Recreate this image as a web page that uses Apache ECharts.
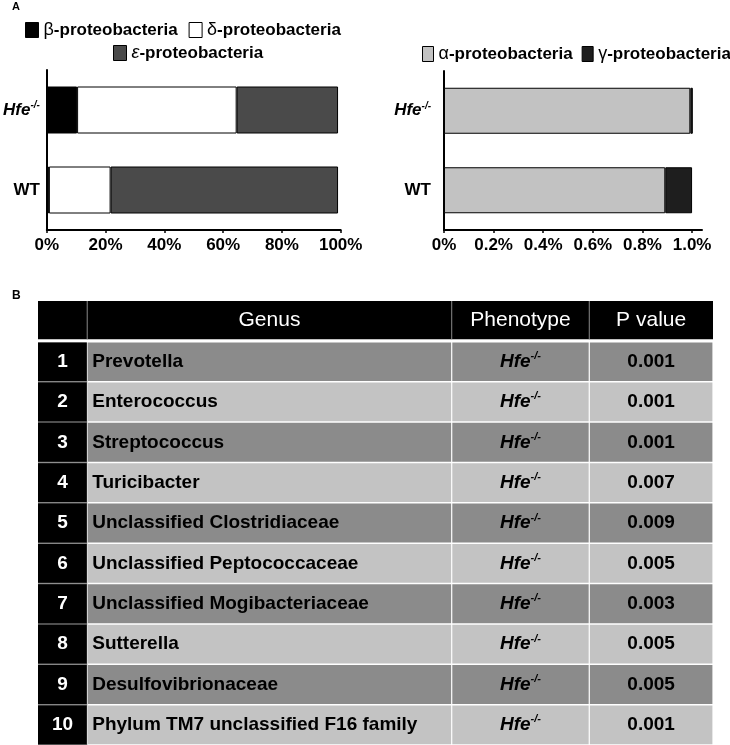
<!DOCTYPE html>
<html><head><meta charset="utf-8">
<script src="https://cdn.jsdelivr.net/npm/echarts@6/dist/echarts.min.js"></script>
<style>html,body{margin:0;padding:0;background:#fff}#c{width:730px;height:745px}</style>
</head><body><div id="c"></div>
<script>
// ---------- data ----------
const groups = ['WT', 'Hfe'];                 // bottom -> top
const betaVals = [0.7, 10.3];                 // % of Proteobacteria
const deltaVals = [21.0, 54.3];
const epsilonVals = [77.4, 34.5];
const alphaVals = [0.892, 0.993];             // %
const gammaVals = [0.108, 0.010];

const tableHeader = ['', 'Genus', 'Phenotype', 'P value'];
const rowNumbers = ['1', '2', '3', '4', '5', '6', '7', '8', '9', '10'];
const genera = ['Prevotella', 'Enterococcus', 'Streptococcus', 'Turicibacter',
  'Unclassified Clostridiaceae', 'Unclassified Peptococcaceae', 'Unclassified Mogibacteriaceae',
  'Sutterella', 'Desulfovibrionaceae', 'Phylum TM7 unclassified F16 family'];
const phenotypes = ['Hfe-/-', 'Hfe-/-', 'Hfe-/-', 'Hfe-/-', 'Hfe-/-', 'Hfe-/-', 'Hfe-/-', 'Hfe-/-', 'Hfe-/-', 'Hfe-/-'];
const pValues = ['0.001', '0.001', '0.001', '0.007', '0.009', '0.005', '0.003', '0.005', '0.005', '0.001'];

// ---------- styling / layout ----------
const FONT = '"Liberation Sans", Arial, sans-serif';
const COL_FRACTIONS = [0, 0.0729, 0.6129, 0.8167, 1];
const tableRows = ['header'].concat(rowNumbers);

const hfeRich = {
  i: { fontStyle: 'italic', fontWeight: 'bold', fontSize: 17, fontFamily: FONT, color: '#000', lineHeight: 20 },
  s: { fontStyle: 'italic', fontWeight: 'bold', fontSize: 10, fontFamily: FONT, color: '#000', verticalAlign: 'top', lineHeight: 12 },
  b: { fontWeight: 'bold', fontSize: 17, fontFamily: FONT, color: '#000' }
};
const yLabelFmt = v => v === 'Hfe' ? '{i|Hfe}{s|-/-}' : '{b|WT}';

const legendRich = {
  g: { fontWeight: 'normal', fontSize: 18, fontFamily: FONT, color: '#000' },
  ge: { fontWeight: 'normal', fontStyle: 'italic', fontSize: 18, fontFamily: FONT, color: '#000' },
  t: { fontWeight: 'bold', fontSize: 17, fontFamily: FONT, color: '#000' }
};
const legendFmt = name => {
  const g = name.charAt(0), rest = name.slice(1);
  return (g === 'ε' ? '{ge|' : '{g|') + g + '}{t|' + rest + '}';
};

const axisLineStyle = { show: true, lineStyle: { color: '#000', width: 2 } };
const tickLabel = { color: '#000', fontWeight: 'bold', fontSize: 17, fontFamily: FONT, margin: 7 };
const barBorder = { borderColor: '#000', borderWidth: 1 };

function bar(name, data, color, xi) {
  return {
    name, type: 'bar', stack: 's' + xi, xAxisIndex: xi, yAxisIndex: xi,
    barWidth: xi === 0 ? 47 : 46, data,
    itemStyle: Object.assign({ color }, barBorder),
    emphasis: { disabled: true }, animation: false
  };
}

function renderRow(params, api) {
  const r = api.value(1);
  const c = api.coord([0, r]);
  const bandH = api.size([0, 1])[1];
  const top = c[1] - bandH / 2;
  const cy = c[1];
  const xs = COL_FRACTIONS.map(f => api.coord([f, r])[0]);
  const ch = [];
  if (r === 0) {
    ch.push({ type: 'rect', shape: { x: xs[0], y: top, width: xs[4] - xs[0], height: bandH - 2 }, style: { fill: '#000' } });
    for (let k = 1; k < 4; k++) {
      ch.push({ type: 'rect', shape: { x: xs[k] - 0.5, y: top, width: 1, height: bandH - 2 }, style: { fill: '#8a8a8a' } });
    }
    for (let k = 1; k < 4; k++) {
      ch.push({ type: 'text', style: { text: tableHeader[k], x: (xs[k] + xs[k + 1]) / 2, y: cy - 1,
        align: 'center', verticalAlign: 'middle', fill: '#fff', fontSize: 21, fontFamily: FONT, fontWeight: 'normal' } });
    }
    return { type: 'group', children: ch };
  }
  const i = r - 1;
  const t0 = top + (r === 1 ? 1.2 : 0.75);
  const h = top + bandH - 0.75 - t0;
  const fill = r % 2 === 1 ? '#8b8b8b' : '#c3c3c3';
  ch.push({ type: 'rect', shape: { x: xs[0], y: top + (r === 1 ? 1.2 : 0), width: xs[1] - xs[0], height: bandH - (r === 1 ? 1.2 : 0) }, style: { fill: '#6a6a6a' } });
  ch.push({ type: 'rect', shape: { x: xs[0], y: t0, width: xs[1] - xs[0] - 0.5, height: h }, style: { fill: '#000' } });
  for (let k = 1; k < 4; k++) {
    ch.push({ type: 'rect', shape: { x: xs[k] + 0.6, y: t0, width: xs[k + 1] - xs[k] - 1.2, height: h }, style: { fill } });
  }
  const bold19 = { fontSize: 19, fontFamily: FONT, fontWeight: 'bold' };
  ch.push({ type: 'text', style: Object.assign({ text: rowNumbers[i], x: (xs[0] + xs[1]) / 2, y: cy, align: 'center', verticalAlign: 'middle', fill: '#fff' }, bold19) });
  ch.push({ type: 'text', style: Object.assign({ text: genera[i], x: xs[1] + 5, y: cy, align: 'left', verticalAlign: 'middle', fill: '#000' }, bold19) });
  const ph = phenotypes[i];
  const base = ph.replace('-/-', ''), sup = ph.indexOf('-/-') >= 0 ? '-/-' : '';
  ch.push({ type: 'text', style: {
    text: '{i|' + base + '}{s|' + sup + '}', x: (xs[2] + xs[3]) / 2, y: cy, align: 'center', verticalAlign: 'middle',
    rich: {
      i: { fontStyle: 'italic', fontWeight: 'bold', fontSize: 19, fontFamily: FONT, fill: '#000', lineHeight: 22 },
      s: { fontStyle: 'italic', fontWeight: 'bold', fontSize: 11, fontFamily: FONT, fill: '#000', verticalAlign: 'top', lineHeight: 13 }
    } } });
  ch.push({ type: 'text', style: Object.assign({ text: pValues[i], x: (xs[3] + xs[4]) / 2, y: cy, align: 'center', verticalAlign: 'middle', fill: '#000' }, bold19) });
  return { type: 'group', children: ch };
}

const chart = echarts.init(document.getElementById('c'), null, { renderer: 'canvas' });
chart.setOption({
  animation: false,
  backgroundColor: '#fff',
  title: [
    { text: 'A', left: 12, top: 1, padding: 0, textStyle: { fontSize: 11, fontWeight: 'bold', fontFamily: FONT, color: '#000' } },
    { text: 'B', left: 12, top: 290, padding: 0, textStyle: { fontSize: 12, fontWeight: 'bold', fontFamily: FONT, color: '#000' } }
  ],
  legend: [
    { data: ['β-proteobacteria', 'δ-proteobacteria'], left: 25, top: 21, width: 400, padding: 0, itemWidth: 13, itemHeight: 15, itemGap: 11,
      icon: 'rect', formatter: legendFmt, textStyle: { rich: legendRich }, itemStyle: { borderColor: '#000', borderWidth: 1 }, selectedMode: false },
    { data: ['ε-proteobacteria'], left: 113, top: 44, padding: 0, itemWidth: 13, itemHeight: 15,
      icon: 'rect', formatter: legendFmt, textStyle: { rich: legendRich }, itemStyle: { borderColor: '#000', borderWidth: 1 }, selectedMode: false },
    { data: ['α-proteobacteria', 'γ-proteobacteria'], left: 422, top: 45, width: 400, padding: 0, itemWidth: 11, itemHeight: 15, itemGap: 9,
      icon: 'rect', formatter: legendFmt, textStyle: { rich: legendRich }, itemStyle: { borderColor: '#000', borderWidth: 1 }, selectedMode: false }
  ],
  grid: [
    { left: 40, top: 70, width: 300.7, height: 160 },
    { left: 444, top: 71, width: 258, height: 159 },
    { left: 38, top: 301, width: 675, height: 444 }
  ],
  xAxis: [
    { type: 'value', gridIndex: 0, min: 0, max: 100, interval: 20, axisLine: axisLineStyle,
      axisTick: { show: true, length: 3, lineStyle: { color: '#000', width: 1.5 } }, splitLine: { show: false },
      axisLabel: Object.assign({ formatter: '{value}%' }, tickLabel) },
    { type: 'value', gridIndex: 1, min: 0, max: 1.04, interval: 0.2, axisLine: axisLineStyle,
      axisTick: { show: true, length: 3, lineStyle: { color: '#000', width: 1.5 } }, splitLine: { show: false },
      axisLabel: Object.assign({ showMaxLabel: false, formatter: v => v === 0 ? '0%' : v.toFixed(1) + '%' }, tickLabel) },
    { type: 'value', gridIndex: 2, min: 0, max: 1, show: false }
  ],
  yAxis: [
    { type: 'category', gridIndex: 0, data: groups, axisLine: axisLineStyle, axisTick: { show: false },
      axisLabel: { formatter: yLabelFmt, rich: hfeRich, margin: 7 } },
    { type: 'category', gridIndex: 1, data: groups, axisLine: axisLineStyle, axisTick: { show: false },
      axisLabel: { formatter: yLabelFmt, rich: hfeRich, margin: 13 } },
    { type: 'category', gridIndex: 2, data: tableRows, inverse: true, show: false }
  ],
  series: [
    bar('β-proteobacteria', betaVals, '#000000', 0),
    bar('δ-proteobacteria', deltaVals, '#ffffff', 0),
    bar('ε-proteobacteria', epsilonVals, '#4a4a4a', 0),
    bar('α-proteobacteria', alphaVals, '#c2c2c2', 1),
    bar('γ-proteobacteria', gammaVals, '#1e1e1e', 1),
    { type: 'custom', xAxisIndex: 2, yAxisIndex: 2, renderItem: renderRow, silent: true,
      data: tableRows.map((_, i) => [0, i]), clip: false }
  ]
});
</script></body></html>
